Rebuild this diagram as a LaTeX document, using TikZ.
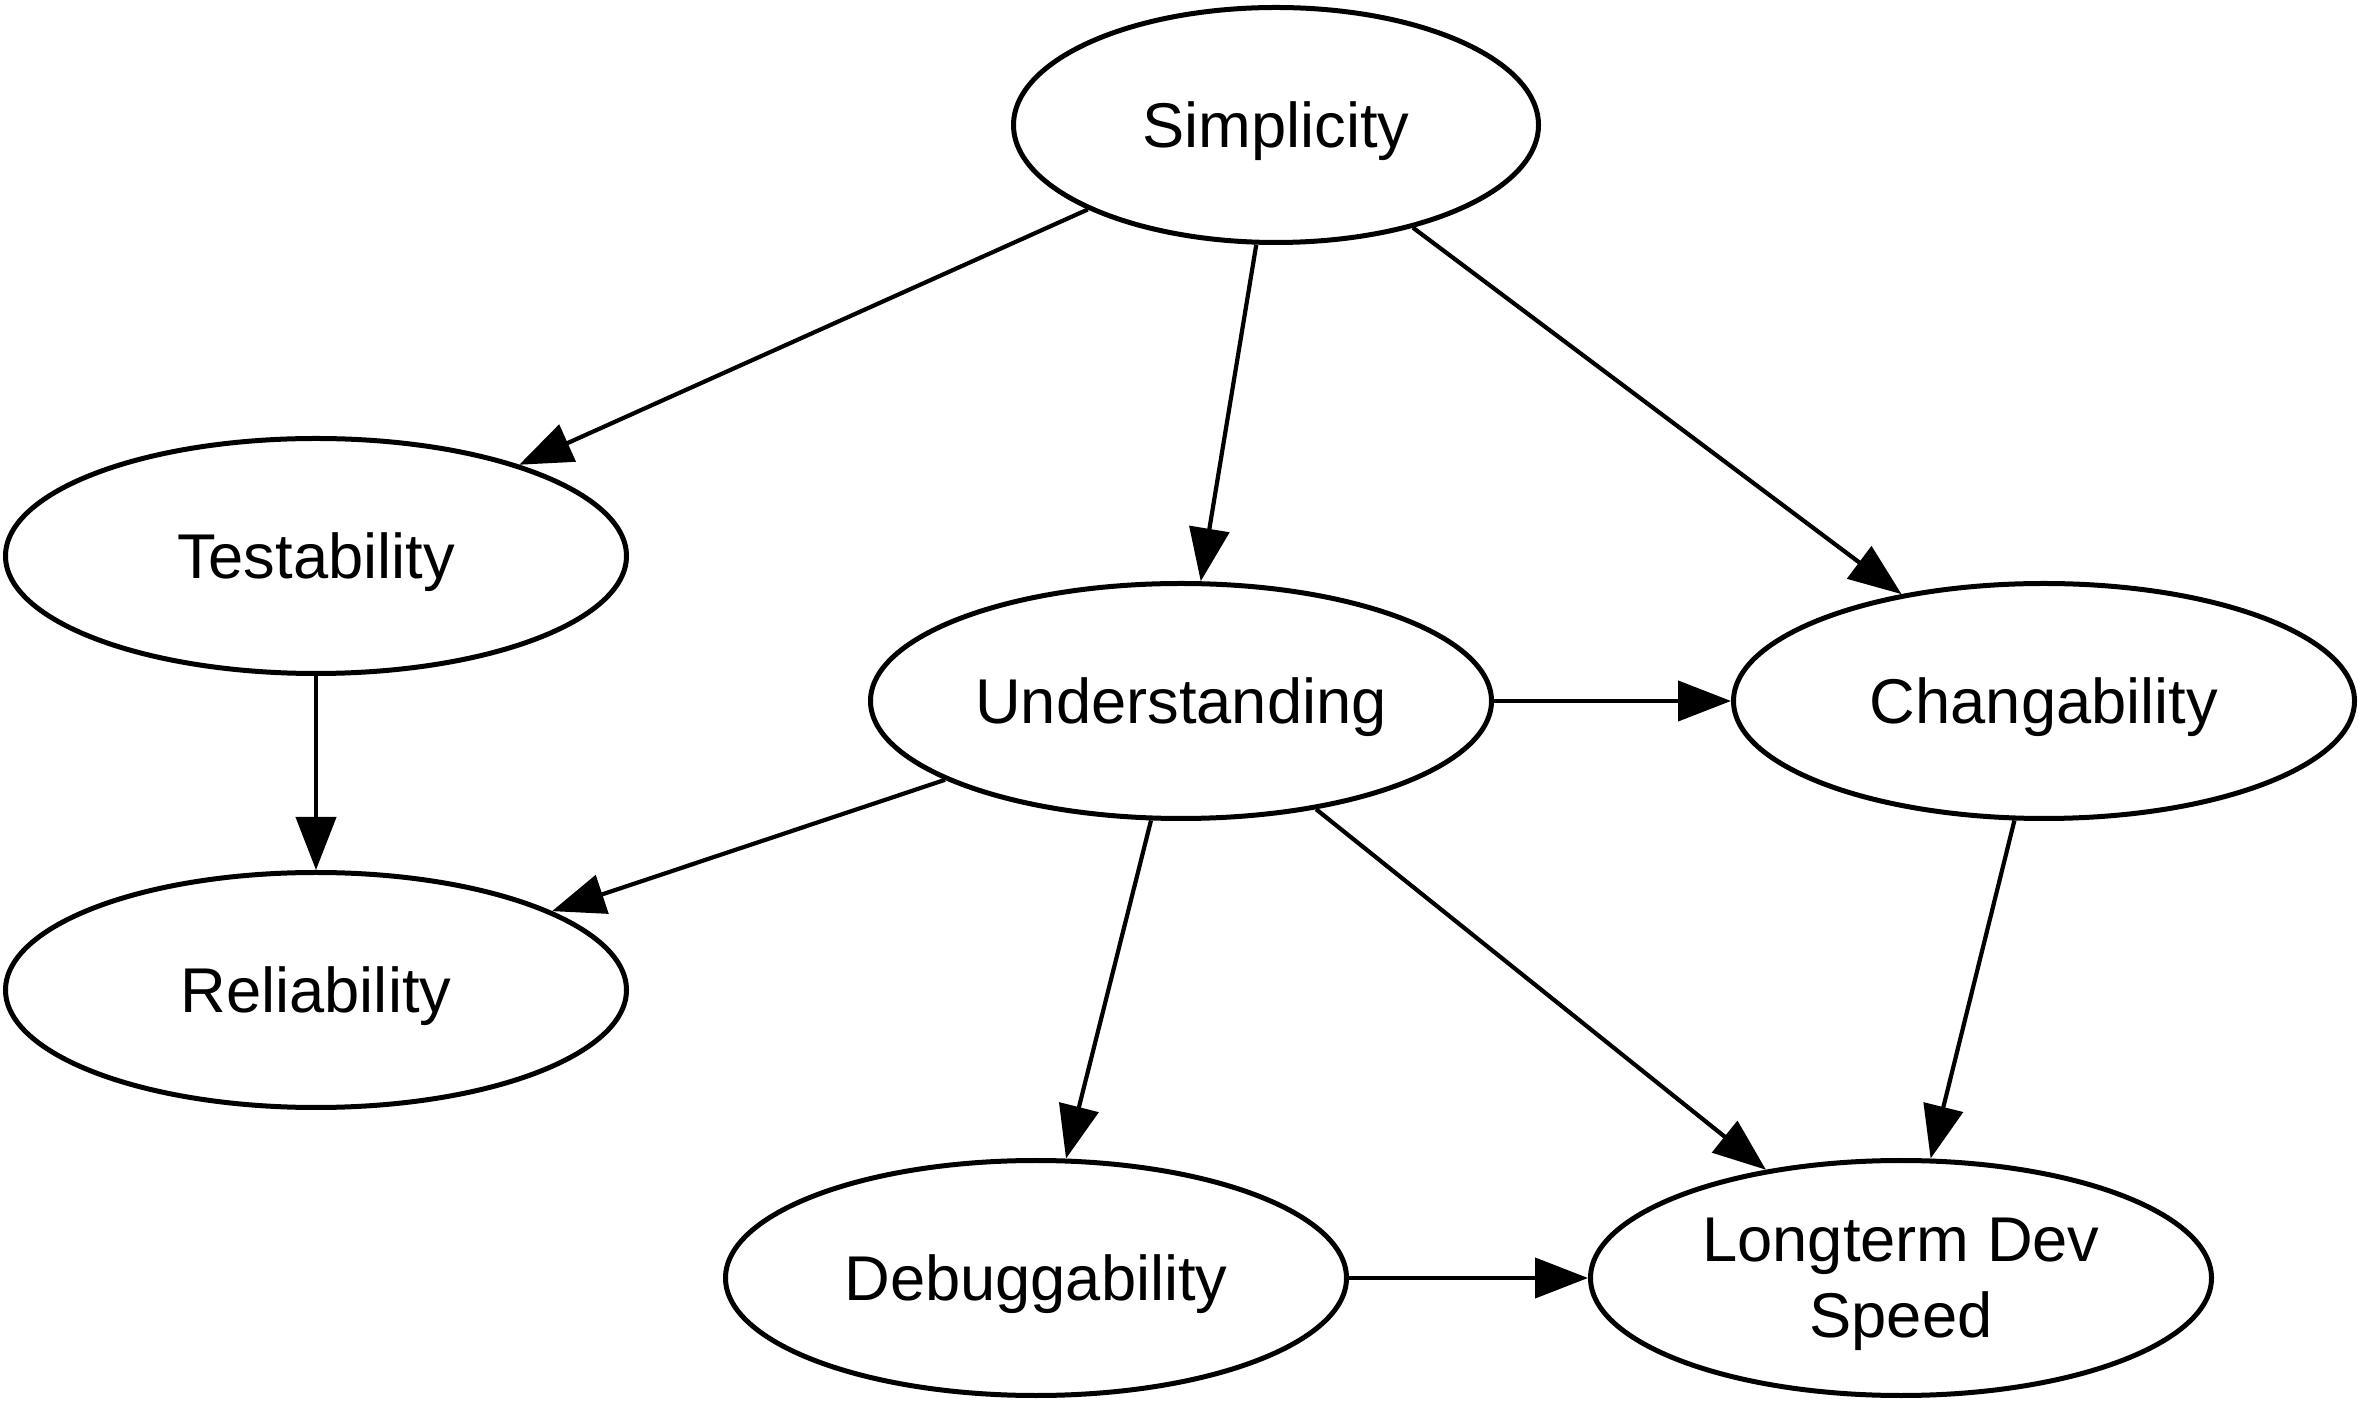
\documentclass[tikz,border=0pt]{standalone}
\usepackage{fontspec}
\setmainfont{Liberation Sans}
\usetikzlibrary{shapes.geometric,arrows.meta}

\begin{document}
\begin{tikzpicture}[->,>={Triangle[length=0.53cm,width=0.40cm]},line width=0.042cm,
		factor/.style={ellipse,draw,line width=0.05cm,inner sep=0pt,text depth=0pt,minimum width=6.21cm,minimum height=2.35cm,font=\fontsize{18}{21.5}\selectfont,align=center}]
		\useasboundingbox (0,0) rectangle (23.58,-14.01);
		\node[factor,minimum width=5.25cm] (simp) at (12.76,-1.25) {Simplicity};
		\node[factor] (test) at (3.16,-5.56) {Testability};
		\node[factor] (und) at (11.81,-7.01) {Understanding};
		\node[factor] (chg) at (20.44,-7.01) {Changability};
		\node[factor] (rel) at (3.16,-9.90) {Reliability};
		\node[factor] (dbg) at (10.36,-12.78) {Debuggability};
		\node[factor] (speed) at (19.01,-12.78) {Longterm Dev\\Speed};
	
		\draw 	(simp) edge (test)
				(simp) edge (und)
				(simp) edge (chg)
				(test) edge (rel)
				(und) edge (chg)
				(und) edge (rel)
				(und) edge (dbg)
				(und) edge (speed)
				(chg) edge (speed)
				(dbg) edge (speed);
\end{tikzpicture}
\end{document}
